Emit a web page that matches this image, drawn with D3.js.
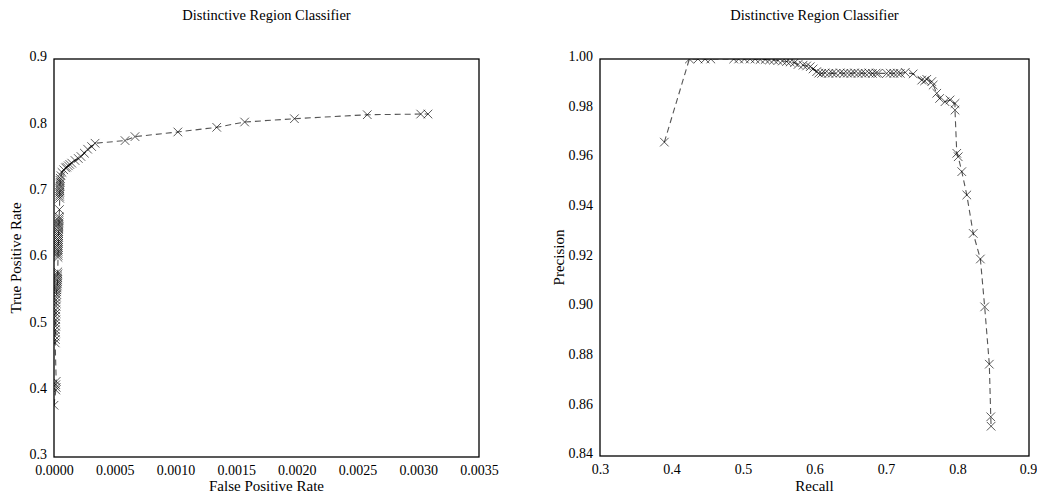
<!DOCTYPE html>
<html>
  <head>
    <meta http-equiv="Content-Type" content="text/html; charset=UTF-8" />
    <title>Distinctive Region Classifier</title>
    <style>
      body { margin: 0; background: #fff; }
      text { font-family: "Liberation Serif", "DejaVu Serif", serif; fill: #000; }
    </style>
  </head>
  <body>
    <div id="chart"></div>
    <script src="https://cdnjs.cloudflare.com/ajax/libs/d3/7.8.5/d3.min.js"></script>
    <script>
// ROC curve, ordered by true positive rate
const rocFpr = [
  0.000000, 0.000015, 0.000018, 0.000015, 0.000018,
  0.000010, 0.000012, 0.000010, 0.000013, 0.000012, 0.000014, 0.000013, 0.000015,
  0.000014, 0.000016, 0.000015, 0.000017, 0.000018, 0.000017, 0.000020, 0.000022,
  0.000021, 0.000024, 0.000025, 0.000027, 0.000028, 0.000030, 0.000029, 0.000031,
  0.000030, 0.000032, 0.000031,
  0.000033, 0.000034, 0.000033, 0.000035, 0.000034, 0.000036, 0.000035, 0.000036,
  0.000037, 0.000036, 0.000038, 0.000037, 0.000039, 0.000038, 0.000040,
  0.000041, 0.000040, 0.000042, 0.000041, 0.000043, 0.000042, 0.000045,
  0.000047, 0.000046, 0.000048, 0.000047, 0.000049, 0.000048, 0.000050, 0.000049,
  0.000051, 0.000050, 0.000052,
  0.000058, 0.000066, 0.000080, 0.000095, 0.000105, 0.000118, 0.000130, 0.000146,
  0.000173, 0.000200, 0.000222, 0.000250, 0.000277, 0.000310, 0.000338,
  0.000585, 0.000667, 0.001020, 0.001340, 0.001570, 0.001980, 0.002580, 0.003020, 0.003080
];
const rocTpr = [
  0.378, 0.401, 0.405, 0.409, 0.414,
  0.472, 0.477, 0.482, 0.487, 0.492, 0.497, 0.502, 0.507,
  0.512, 0.517, 0.522, 0.527, 0.532, 0.537, 0.541, 0.545,
  0.549, 0.552, 0.555, 0.558, 0.561, 0.564, 0.567, 0.570,
  0.573, 0.576, 0.579,
  0.601, 0.604, 0.607, 0.610, 0.613, 0.616, 0.619, 0.622,
  0.625, 0.628, 0.631, 0.634, 0.637, 0.640, 0.644,
  0.647, 0.650, 0.653, 0.656, 0.659, 0.662, 0.673,
  0.690, 0.693, 0.696, 0.699, 0.702, 0.705, 0.708, 0.711,
  0.714, 0.717, 0.720,
  0.724, 0.729, 0.733, 0.736, 0.737, 0.739, 0.741, 0.743,
  0.747, 0.750, 0.753, 0.758, 0.764, 0.768, 0.773,
  0.777, 0.783, 0.790, 0.797, 0.805, 0.810, 0.816, 0.817, 0.817
];

// precision / recall curve, ordered by recall
const prRecall = [
  0.390, 0.425, 0.437, 0.447, 0.455,
  0.487, 0.494, 0.502, 0.510, 0.517, 0.524, 0.531, 0.537, 0.543, 0.549, 0.555, 0.561, 0.566, 0.572,
  0.577, 0.584, 0.589, 0.594, 0.598, 0.603, 0.606,
  0.610, 0.615, 0.620, 0.625, 0.630, 0.636, 0.641, 0.646, 0.651, 0.656, 0.661, 0.666,
  0.671, 0.676, 0.681, 0.686, 0.689,
  0.701, 0.706, 0.711, 0.716, 0.720,
  0.727, 0.738, 0.750, 0.754, 0.757, 0.764, 0.766, 0.771, 0.775, 0.7825, 0.7895, 0.7965, 0.7965,
  0.799, 0.801, 0.806, 0.813, 0.822, 0.832, 0.838, 0.8445, 0.8465, 0.847
];
const prPrecision = [
  0.9665, 1.000, 1.000, 1.000, 1.000,
  1.000, 1.000, 1.000, 1.000, 1.000, 0.9998, 0.9998, 0.9996, 0.9996, 0.9994, 0.9992, 0.9990, 0.9988, 0.9985,
  0.9978, 0.9975, 0.9972, 0.9969, 0.9960, 0.9949, 0.9943,
  0.9942, 0.9944, 0.9942, 0.9943, 0.9942, 0.9944, 0.9942, 0.9943, 0.9942, 0.9944, 0.9942, 0.9943,
  0.9942, 0.9944, 0.9942, 0.9943, 0.9942,
  0.9942, 0.9943, 0.9942, 0.9943, 0.9942,
  0.9946, 0.9940, 0.9915, 0.9912, 0.9918, 0.9909, 0.9895, 0.9862, 0.9841, 0.9828, 0.9835, 0.9821, 0.9794,
  0.9620, 0.9606, 0.9546, 0.9452, 0.9297, 0.9194, 0.9001, 0.8770, 0.8558, 0.8520
];

const rocXTicks = [0.0000, 0.0005, 0.0010, 0.0015, 0.0020, 0.0025, 0.0030, 0.0035];
const rocYTicks = [0.3, 0.4, 0.5, 0.6, 0.7, 0.8, 0.9];
const prXTicks = [0.3, 0.4, 0.5, 0.6, 0.7, 0.8, 0.9];
const prYTicks = [0.84, 0.86, 0.88, 0.90, 0.92, 0.94, 0.96, 0.98, 1.00];

const title = 'Distinctive Region Classifier';

const width = 1037, height = 496;
const svg = d3.select('#chart').append('svg')
  .attr('width', width)
  .attr('height', height);

const drawPanel = (cfg) => {
  const { id, left, right, top, bottom, xs, ys, xTicks, yTicks, xFmt, yFmt, xLabel, yLabel, yLabelX } = cfg;
  const x = d3.scaleLinear().domain(d3.extent(xTicks)).range([left, right]);
  const y = d3.scaleLinear().domain(d3.extent(yTicks)).range([bottom, top]);
  const pts = xs.map((v, i) => [v, ys[i]]);
  const g = svg.append('g');

  g.append('clipPath').attr('id', 'clip-' + id)
    .append('rect')
      .attr('x', left).attr('y', top)
      .attr('width', right - left).attr('height', bottom - top);

  const plot = g.append('g').attr('clip-path', `url(#clip-${id})`);

  plot.append('path')
    .datum(pts)
    .attr('fill', 'none')
    .attr('stroke', '#555')
    .attr('stroke-width', 1.1)
    .attr('stroke-dasharray', '6,4')
    .attr('d', d3.line().x(d => x(d[0])).y(d => y(d[1])));

  const s = 4.3;
  plot.selectAll('.mk')
    .data(pts)
    .enter()
      .append('path')
      .attr('class', 'mk')
      .attr('fill', 'none')
      .attr('stroke', '#000')
      .attr('stroke-width', 0.65)
      .attr('d', d => {
        const cx = x(d[0]), cy = y(d[1]);
        return `M${cx - s},${cy - s}L${cx + s},${cy + s}M${cx - s},${cy + s}L${cx + s},${cy - s}`;
      });

  // frame
  g.append('rect')
    .attr('x', left).attr('y', top)
    .attr('width', right - left).attr('height', bottom - top)
    .attr('fill', 'none')
    .attr('stroke', '#000')
    .attr('stroke-width', 1.3);

  const xAxis = g.append('g')
    .attr('transform', `translate(0,${bottom})`)
    .call(d3.axisBottom(x).tickValues(xTicks).tickFormat(xFmt).tickSize(0).tickPadding(8));
  const yAxis = g.append('g')
    .attr('transform', `translate(${left},0)`)
    .call(d3.axisLeft(y).tickValues(yTicks).tickFormat(yFmt).tickSize(0).tickPadding(7));
  [xAxis, yAxis].forEach(a => {
    a.select('.domain').remove();
    a.selectAll('text').attr('font-family', null).attr('font-size', 14);
  });
  yAxis.selectAll('text').attr('dy', '0.12em');
  // keep the last x label inside the window
  xAxis.selectAll('.tick:last-of-type text')
    .attr('dx', right + 9 > width ? -(right + 9 - width) : 0);

  const cx = (left + right) / 2;
  g.append('text')
    .attr('x', cx).attr('y', 20)
    .attr('text-anchor', 'middle')
    .attr('font-size', 14.5)
    .text(title);
  g.append('text')
    .attr('x', cx).attr('y', 491)
    .attr('text-anchor', 'middle')
    .attr('font-size', 15)
    .text(xLabel);
  g.append('text')
    .attr('transform', `translate(${yLabelX},${(top + bottom) / 2}) rotate(-90)`)
    .attr('text-anchor', 'middle')
    .attr('font-size', 15)
    .text(yLabel);
};

drawPanel({
  id: 'roc', left: 54, right: 479, top: 59, bottom: 457,
  xs: rocFpr, ys: rocTpr, xTicks: rocXTicks, yTicks: rocYTicks,
  xFmt: d3.format('.4f'), yFmt: d3.format('.1f'),
  xLabel: 'False Positive Rate', yLabel: 'True Positive Rate', yLabelX: 21
});

drawPanel({
  id: 'pr', left: 600, right: 1029, top: 59, bottom: 456,
  xs: prRecall, ys: prPrecision, xTicks: prXTicks, yTicks: prYTicks,
  xFmt: d3.format('.1f'), yFmt: d3.format('.2f'),
  xLabel: 'Recall', yLabel: 'Precision', yLabelX: 564
});
    </script>
  </body>
</html>
